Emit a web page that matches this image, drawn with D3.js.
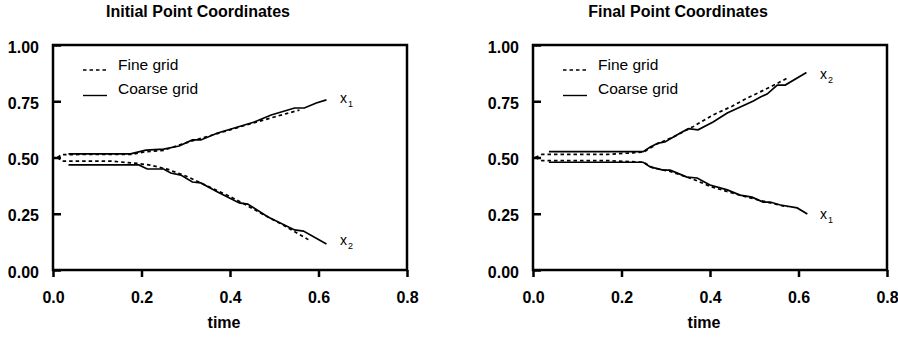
<!DOCTYPE html>
<html>
<head>
<meta charset="utf-8">
<script src="https://cdn.jsdelivr.net/npm/d3@7"></script>
<style>
  body { margin: 0; background: #fff; }
  svg text { font-family: "Liberation Sans", Arial, sans-serif; fill: #000; }
</style>
</head>
<body>
<div id="chart"></div>
<script>
// chart values
const timeTicks = [0, 0.2, 0.4, 0.6, 0.8];
const valueTicks = [0, 0.25, 0.5, 0.75, 1];
const titles = ["Initial Point Coordinates", "Final Point Coordinates"];
const legendLabels = ["Fine grid", "Coarse grid"];

// [time, value] pairs
const initX1Fine = [[0.01, 0.5], [0.02, 0.513], [0.18, 0.514], [0.21, 0.526], [0.25, 0.532], [0.3, 0.565],
  [0.35, 0.594], [0.4, 0.623], [0.45, 0.652], [0.5, 0.68], [0.557, 0.711]];
const initX1Coarse = [[0.035, 0.516], [0.175, 0.516], [0.21, 0.533], [0.25, 0.537], [0.285, 0.551], [0.315, 0.578],
  [0.334, 0.578], [0.372, 0.609], [0.41, 0.631], [0.455, 0.658], [0.493, 0.689], [0.546, 0.72], [0.568, 0.72],
  [0.595, 0.742], [0.618, 0.756]];
const initX2Fine = [[0.01, 0.5], [0.02, 0.484], [0.13, 0.484], [0.19, 0.474], [0.22, 0.466], [0.26, 0.447],
  [0.3, 0.418], [0.35, 0.372], [0.4, 0.327], [0.44, 0.285], [0.47, 0.252], [0.52, 0.2], [0.577, 0.135]];
const initX2Coarse = [[0.035, 0.467], [0.194, 0.467], [0.213, 0.449], [0.25, 0.449], [0.266, 0.431], [0.289, 0.422],
  [0.315, 0.391], [0.334, 0.387], [0.372, 0.347], [0.421, 0.298], [0.44, 0.293], [0.486, 0.236], [0.546, 0.178],
  [0.566, 0.173], [0.618, 0.116]];

const finalX2Fine = [[0.005, 0.5], [0.02, 0.514], [0.17, 0.514], [0.25, 0.524], [0.28, 0.56], [0.317, 0.591],
  [0.36, 0.635], [0.407, 0.689], [0.45, 0.728], [0.484, 0.764], [0.536, 0.813], [0.575, 0.853]];
const finalX2Coarse = [[0.036, 0.526], [0.249, 0.526], [0.265, 0.547], [0.283, 0.564], [0.298, 0.569], [0.333, 0.609],
  [0.351, 0.628], [0.373, 0.623], [0.407, 0.658], [0.439, 0.698], [0.498, 0.751], [0.514, 0.769], [0.529, 0.782],
  [0.552, 0.822], [0.57, 0.822], [0.618, 0.878]];
const finalX1Fine = [[0.005, 0.5], [0.02, 0.486], [0.17, 0.486], [0.25, 0.479], [0.27, 0.455], [0.31, 0.438],
  [0.36, 0.405], [0.4, 0.372], [0.45, 0.342], [0.5, 0.316], [0.54, 0.296], [0.575, 0.28]];
const finalX1Coarse = [[0.036, 0.479], [0.249, 0.479], [0.265, 0.458], [0.294, 0.444], [0.31, 0.444], [0.348, 0.413],
  [0.371, 0.409], [0.4, 0.378], [0.439, 0.356], [0.468, 0.333], [0.495, 0.324], [0.52, 0.302], [0.536, 0.302],
  [0.559, 0.289], [0.597, 0.276], [0.62, 0.249]];

const panels = [
  {left: 53, title: titles[0], series: [initX1Fine, initX1Coarse, initX2Fine, initX2Coarse],
   labels: [{sub: "1", v: 0.76}, {sub: "2", v: 0.13}]},
  {left: 533, title: titles[1], series: [finalX2Fine, finalX2Coarse, finalX1Fine, finalX1Coarse],
   labels: [{sub: "2", v: 0.865}, {sub: "1", v: 0.245}]}
];

const width = 898, height = 339;
const plotW = 354, plotTop = 45, plotBottom = 270;

let svg = d3.select("#chart")
    .append("svg")
    .attr("width", width)
    .attr("height", height);

function drawPanel(p) {
    let g = svg.append("g");

    let x = d3.scaleLinear().domain([0, 0.8]).range([p.left, p.left + plotW]);
    let y = d3.scaleLinear().domain([0, 1]).range([plotBottom, plotTop]);

    // title
    g.append("text")
        .attr("x", p.left + 145)
        .attr("y", 17)
        .style("text-anchor", "middle")
        .style("font-weight", "bold")
        .style("font-size", "16px")
        .text(p.title);

    // x axis, ticks outward
    let xAxis = g.append("g")
        .attr("transform", `translate(0, ${plotBottom})`)
        .call(d3.axisBottom(x).tickValues(timeTicks).tickFormat(d3.format(".1f")).tickSize(7).tickPadding(15));
    // y axis, ticks inward
    let yAxis = g.append("g")
        .attr("transform", `translate(${p.left}, 0)`)
        .call(d3.axisLeft(y).tickValues(valueTicks).tickFormat(d3.format(".2f")).tickSize(-8).tickPadding(14));

    [xAxis, yAxis].forEach(function(a) {
        a.select(".domain").remove();
        a.selectAll("line").attr("stroke", "#000").attr("stroke-width", 2.5);
        a.selectAll("text")
            .style("font-size", "16px")
            .style("font-weight", "bold")
            .attr("fill", "#000");
    });
    yAxis.selectAll("text").attr("dy", "0.45em");

    // frame
    g.append("rect")
        .attr("x", x(0))
        .attr("y", y(1))
        .attr("width", x(0.8) - x(0))
        .attr("height", y(0) - y(1))
        .attr("fill", "none")
        .attr("stroke", "#000")
        .attr("stroke-width", 2.5);

    g.append("text")
        .attr("x", p.left + 171)
        .attr("y", 328)
        .style("text-anchor", "middle")
        .style("font-weight", "bold")
        .style("font-size", "16px")
        .text("time");

    let line = d3.line()
        .x(function(d) { return x(d[0]); })
        .y(function(d) { return y(d[1]); });

    p.series.forEach(function(s, i) {
        g.append("path")
            .datum(s)
            .attr("d", line)
            .attr("fill", "none")
            .attr("stroke", "#000")
            .attr("stroke-width", 1.7)
            .attr("stroke-dasharray", i % 2 == 0 ? "3.5,3" : null);
    });

    // legend
    legendLabels.forEach(function(lab, i) {
        let ly = 70 + i * 24;
        g.append("line")
            .attr("x1", p.left + 30)
            .attr("x2", p.left + 54)
            .attr("y1", ly + i * 1.5)
            .attr("y2", ly + i * 1.5)
            .attr("stroke", "#000")
            .attr("stroke-width", 1.4)
            .attr("stroke-dasharray", i == 0 ? "3.5,3" : null);
        g.append("text")
            .attr("x", p.left + 65)
            .attr("y", ly)
            .style("font-size", "15.5px")
            .text(lab);
    });

    // series labels
    p.labels.forEach(function(l) {
        let t = g.append("text")
            .attr("x", p.left + 287)
            .attr("y", y(l.v) + 4)
            .style("font-size", "14px");
        t.append("tspan").text("x");
        t.append("tspan").attr("dy", 4).style("font-size", "9px").attr("dx", 1).text(l.sub);
    });
}

panels.forEach(drawPanel);
</script>
</body>
</html>
